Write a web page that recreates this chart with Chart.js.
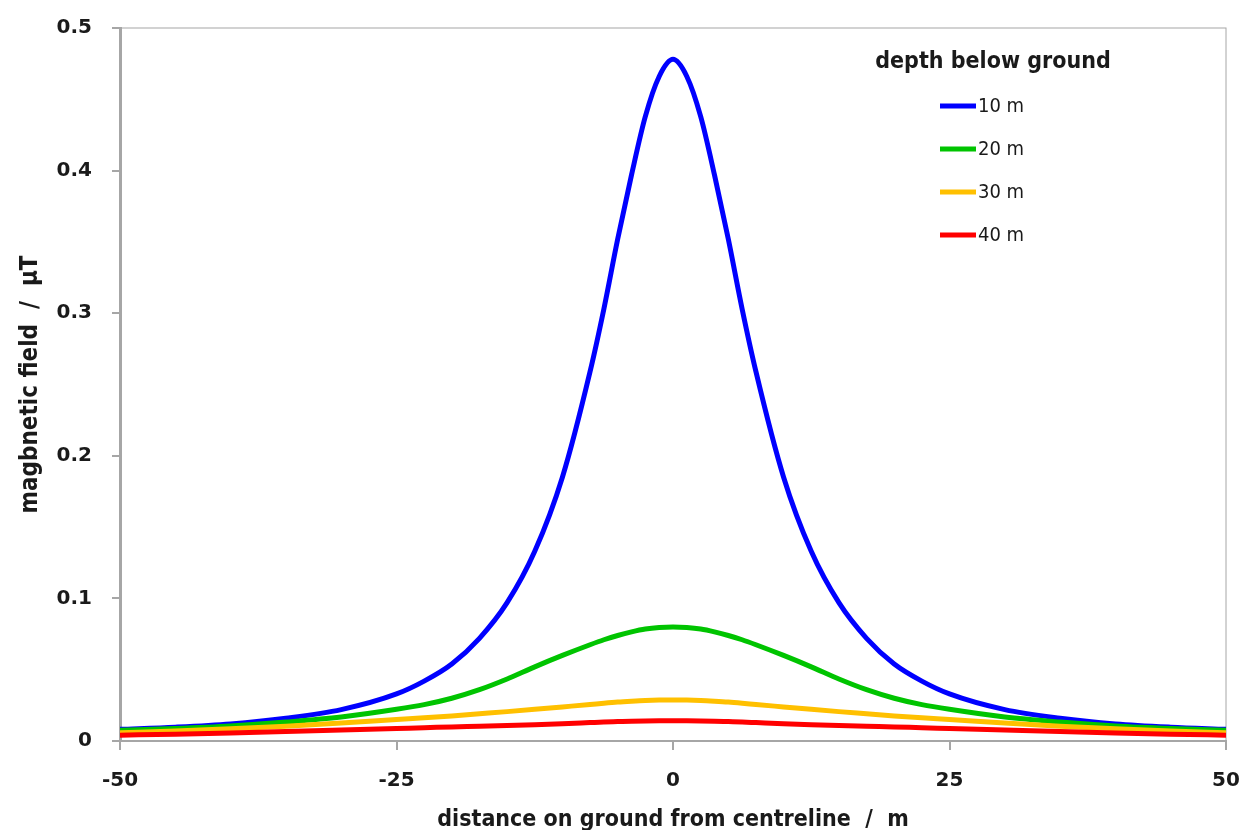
<!DOCTYPE html>
<html>
<head>
<meta charset="utf-8">
<title>Magnetic field above buried line</title>
<script src="https://cdn.jsdelivr.net/npm/chart.js@4.4.1/dist/chart.umd.min.js"></script>
<style>
  html, body { margin: 0; padding: 0; background: #fff; }
  #wrap { width: 1244px; height: 830px; position: relative; }
</style>
</head>
<body>
<div id="wrap"><canvas id="plotCanvas"></canvas></div>
<script>
// distance on ground from centreline (m)
const distances = [-50, -45, -40, -35, -30, -25, -22.5, -20, -17.5, -15, -12.5, -10, -7.5, -6.25, -5, -3.75, -2.5, -1.25,
  0, 1.25, 2.5, 3.75, 5, 6.25, 7.5, 10, 12.5, 15, 17.5, 20, 22.5, 25, 30, 35, 40, 45, 50]

// magnetic field (uT)
const depth10 = [0.0082, 0.0097, 0.012, 0.016, 0.022, 0.033, 0.042, 0.054, 0.072, 0.097, 0.133, 0.185, 0.259, 0.303, 0.352, 0.397, 0.438, 0.466,
  0.478, 0.466, 0.438, 0.397, 0.352, 0.303, 0.259, 0.185, 0.133, 0.097, 0.072, 0.054, 0.042, 0.033, 0.022, 0.016, 0.012, 0.0097, 0.0082]
const depth20 = [0.0075, 0.0088, 0.0106, 0.0133, 0.0168, 0.0222, 0.0255, 0.030, 0.036, 0.0435, 0.052, 0.060, 0.0675, 0.071, 0.074, 0.0765, 0.0785, 0.0796,
  0.080, 0.0796, 0.0785, 0.0765, 0.074, 0.071, 0.0675, 0.060, 0.052, 0.0435, 0.036, 0.030, 0.0255, 0.0222, 0.0168, 0.0133, 0.0106, 0.0088, 0.0075]
const depth30 = [0.0057, 0.0070, 0.0086, 0.0104, 0.0126, 0.0151, 0.0163, 0.0176, 0.0191, 0.0206, 0.0222, 0.0239, 0.0256, 0.0265, 0.0273, 0.0279, 0.0284, 0.0287,
  0.0288, 0.0287, 0.0284, 0.0279, 0.0273, 0.0265, 0.0256, 0.0239, 0.0222, 0.0206, 0.0191, 0.0176, 0.0163, 0.0151, 0.0126, 0.0104, 0.0086, 0.0070, 0.0057]
const depth40 = [0.0041, 0.0048, 0.0056, 0.0066, 0.0077, 0.0088, 0.0093, 0.0099, 0.0103, 0.0108, 0.0114, 0.0121, 0.0129, 0.0133, 0.0136, 0.0139, 0.0141, 0.0142,
  0.0142, 0.0142, 0.0141, 0.0139, 0.0136, 0.0133, 0.0129, 0.0121, 0.0114, 0.0108, 0.0103, 0.0099, 0.0093, 0.0088, 0.0077, 0.0066, 0.0056, 0.0048, 0.0041]

const seriesLabels = ['10 m', '20 m', '30 m', '40 m']
const seriesColors = ['#0000ff', '#00c400', '#ffc000', '#ff0000']
const legendTitle = 'depth below ground'
const xTitle = 'distance on ground from centreline  /  m'
const yTitle = 'magbnetic field  /  µT'

const axisGrey = '#a6a6a6'
const condensed = '"DejaVu Sans Condensed", "DejaVu Sans", sans-serif'
const tickFont = { family: '"DejaVu Sans", Verdana, sans-serif', size: 20, weight: 'bold' }
const titleFont = { family: condensed, size: 23, weight: 'bold' }

const toPoints = vals => vals.map((v, i) => ({ x: distances[i], y: v }))

const datasets = [depth10, depth20, depth30, depth40].map((vals, i) => ({
    label: seriesLabels[i],
    data: toPoints(vals),
    borderColor: seriesColors[i],
    backgroundColor: seriesColors[i],
    borderWidth: 5,
    pointRadius: 0,
    cubicInterpolationMode: 'monotone',
    order: 4 - i, // later series on top, as in the original
}))

// thin frame round the plot area
const framePlugin = {
    id: 'frame',
    beforeDatasetsDraw(chart) {
        const { ctx, chartArea: a } = chart
        ctx.save()
        ctx.strokeStyle = axisGrey
        ctx.lineWidth = 1
        ctx.strokeRect(a.left, a.top, a.right - a.left, a.bottom - a.top)
        ctx.restore()
    },
}

// legend with a title, drawn inside the plot at top right
const legendPlugin = {
    id: 'depthLegend',
    afterDraw(chart, args, opts) {
        const { ctx } = chart
        ctx.save()
        ctx.fillStyle = '#1a1a1a'
        ctx.textBaseline = 'middle'
        ctx.font = 'bold 23px ' + condensed
        ctx.textAlign = 'center'
        ctx.fillText(legendTitle, opts.titleX, opts.titleY)
        ctx.font = '20px ' + condensed
        ctx.textAlign = 'left'
        chart.data.datasets.forEach((ds, i) => {
            const y = opts.firstY + i * opts.rowGap
            ctx.strokeStyle = ds.borderColor
            ctx.lineWidth = 5
            ctx.beginPath()
            ctx.moveTo(opts.lineX0, y)
            ctx.lineTo(opts.lineX1, y)
            ctx.stroke()
            ctx.fillText(ds.label, opts.textX, y + 1)
        })
        ctx.restore()
    },
}

new Chart(document.getElementById('plotCanvas'), {
    type: 'line',
    data: { datasets },
    plugins: [framePlugin, legendPlugin],
    options: {
        responsive: true,
        maintainAspectRatio: false,
        animation: false,
        layout: { padding: { top: 28, right: 18, left: 0, bottom: 0 } },
        plugins: {
            legend: { display: false },
            tooltip: { enabled: false },
            depthLegend: { titleX: 993, titleY: 62, firstY: 106, rowGap: 43, lineX0: 940, lineX1: 976, textX: 978 },
        },
        scales: {
            x: {
                type: 'linear',
                min: -50,
                max: 50,
                afterFit: s => { s.height = 89; s.paddingRight = 0; s.paddingLeft = 0 },
                ticks: { stepSize: 25, color: '#1a1a1a', font: tickFont, padding: 19, maxRotation: 0 },
                grid: { drawOnChartArea: false, color: axisGrey, tickLength: 9, lineWidth: 2 },
                border: { color: axisGrey, width: 2 },
                title: { display: true, text: xTitle, color: '#1a1a1a', font: titleFont, padding: { top: 0, bottom: -4 } },
            },
            y: {
                min: 0,
                max: 0.5,
                afterFit: s => { s.width = 120; s.paddingTop = 0; s.paddingBottom = 0 },
                ticks: { stepSize: 0.1, color: '#1a1a1a', font: tickFont, padding: 20 },
                grid: { drawOnChartArea: false, color: axisGrey, tickLength: 8, lineWidth: 2 },
                border: { color: axisGrey, width: 3 },
                title: { display: true, text: yTitle, color: '#1a1a1a', font: { family: condensed, size: 24, weight: 'bold' }, padding: { top: 16, bottom: 0 } },
            },
        },
    },
})
</script>
</body>
</html>
